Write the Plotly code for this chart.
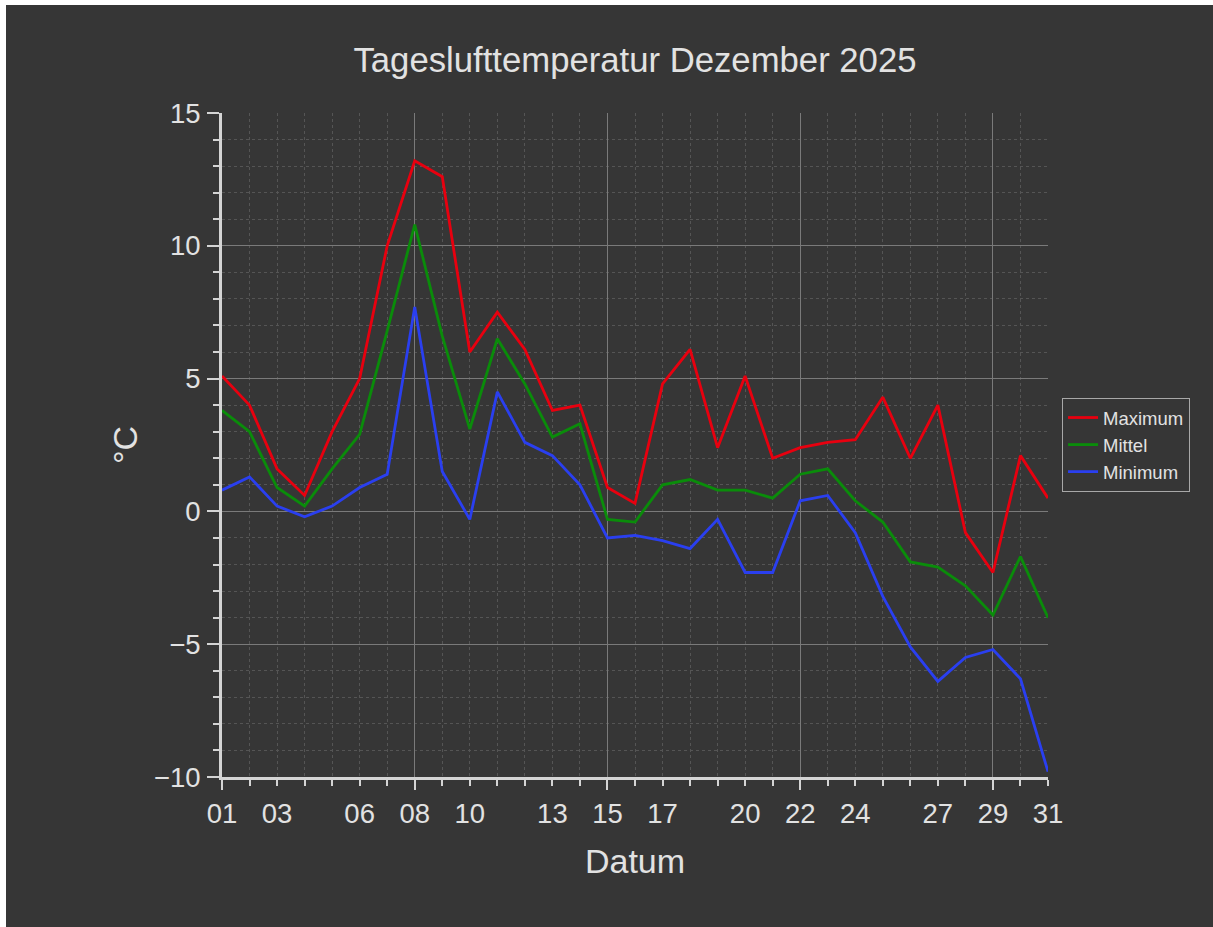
import plotly.graph_objects as go

# Tageswerte Dezember 2025
tage = list(range(1, 32))
maximum = [5.1, 4.0, 1.6, 0.6, 3.0, 5.0, 10.0, 13.2, 12.6, 6.0, 7.5, 6.1, 3.8, 4.0, 0.9, 0.3,
           4.8, 6.1, 2.4, 5.1, 2.0, 2.4, 2.6, 2.7, 4.3, 2.0, 4.0, -0.8, -2.3, 2.1, 0.5]
mittel = [3.8, 3.0, 0.9, 0.2, 1.6, 2.9, 6.8, 10.8, 6.6, 3.1, 6.5, 4.8, 2.8, 3.3, -0.3, -0.4,
          1.0, 1.2, 0.8, 0.8, 0.5, 1.4, 1.6, 0.4, -0.4, -1.9, -2.1, -2.8, -3.9, -1.7, -4.0]
minimum = [0.8, 1.3, 0.2, -0.2, 0.2, 0.9, 1.4, 7.7, 1.5, -0.3, 4.5, 2.6, 2.1, 1.0, -1.0, -0.9,
           -1.1, -1.4, -0.3, -2.3, -2.3, 0.4, 0.6, -0.8, -3.2, -5.1, -6.4, -5.5, -5.2, -6.3, -9.8]

# Beschriftung der x-Achse und Wochen-Raster
label_tage = [1, 3, 6, 8, 10, 13, 15, 17, 20, 22, 24, 27, 29, 31]
label_text = ["01", "03", "06", "08", "10", "13", "15", "17", "20", "22", "24", "27", "29", "31"]
wochen_tage = [1, 8, 15, 22, 29]

bg = "#363636"
txt = "#e2e2e2"
achse = "#d4d4d4"
grid_major = "#7a7a7a"
grid_minor = "#555555"
font = "Liberation Sans, Arial, sans-serif"

fig = go.Figure()
# Max/Mittel auf x (Beschriftung), Minimum auf x2 (Wochenachse) -> beide Achsen werden gezeichnet
fig.add_trace(go.Scatter(x=tage, y=maximum, mode="lines", name="Maximum",
                         line=dict(color="#e8000f", width=2.8)))
fig.add_trace(go.Scatter(x=tage, y=mittel, mode="lines", name="Mittel",
                         line=dict(color="#0a8c0a", width=2.8)))
fig.add_trace(go.Scatter(x=tage, y=minimum, mode="lines", name="Minimum", xaxis="x2",
                         line=dict(color="#2a3ff0", width=2.8)))

fig.update_layout(
    width=1207, height=922,
    paper_bgcolor=bg, plot_bgcolor=bg,
    margin=dict(l=216, r=165, t=108, b=150),
    font=dict(family=font, color=txt),
    title=dict(text="Tageslufttemperatur Dezember 2025", x=0.5, xref="paper", xanchor="center",
               y=1 - 55 / 922, yref="container", yanchor="middle",
               font=dict(size=34.7, color=txt)),
    legend=dict(x=1.017, xanchor="left", y=0.5, yanchor="middle",
                bgcolor=bg, bordercolor="#a8a8a8", borderwidth=1,
                font=dict(size=18.5, color=txt), tracegroupgap=0),
    showlegend=True,
)

# x-Achse: Beschriftung + Tagesraster
fig.update_xaxes(
    range=[1, 31], tickmode="array", tickvals=label_tage, ticktext=label_text,
    ticks="outside", ticklen=6, tickwidth=2, tickcolor=achse,
    tickfont=dict(size=27.5, color=txt), ticklabelstandoff=4,
    showgrid=False, zeroline=False,
    showline=True, linecolor=achse, linewidth=3,
    minor=dict(dtick=1, tick0=1, ticks="outside", ticklen=6, tickwidth=2, tickcolor=achse,
               showgrid=True, gridcolor=grid_minor, griddash="3px,3px", gridwidth=1),
    title=dict(text="Datum", font=dict(size=34, color=txt), standoff=22),
)

# zweite x-Achse fuer lange Wochenstriche und durchgezogenes Raster
fig.update_layout(xaxis2=dict(
    overlaying="x", side="bottom", range=[1, 31], tickmode="array", tickvals=wochen_tage,
    ticks="outside", ticklen=12, tickwidth=2, tickcolor=achse, showticklabels=False,
    showgrid=True, gridcolor=grid_major, gridwidth=1, zeroline=False, showline=False,
))

fig.update_yaxes(
    range=[-10, 15], dtick=5, tick0=0,
    ticks="outside", ticklen=12, tickwidth=2, tickcolor=achse,
    tickfont=dict(size=27.5, color=txt), ticklabelstandoff=1,
    showgrid=True, gridcolor=grid_major, gridwidth=1, zeroline=False,
    showline=True, linecolor=achse, linewidth=3,
    minor=dict(dtick=1, ticks="outside", ticklen=6, tickwidth=2, tickcolor=achse,
               showgrid=True, gridcolor=grid_minor, griddash="3px,3px", gridwidth=1),
    title=dict(text="°C", font=dict(size=34, color=txt), standoff=6),
)

fig.write_html("out.html", post_script="document.body.style.margin='5px 0 0 6px';")
